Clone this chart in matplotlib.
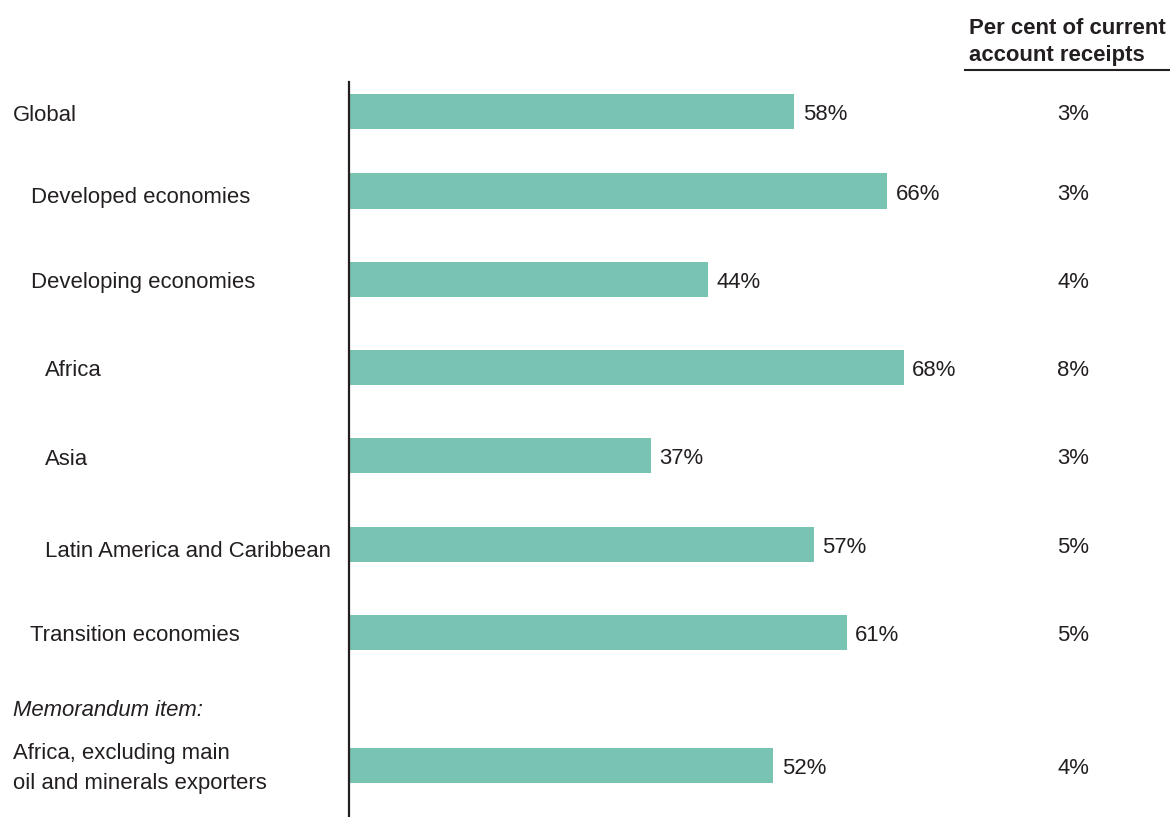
import matplotlib
matplotlib.use('Agg')
import matplotlib.pyplot as plt
from matplotlib.lines import Line2D

# ---------------- data ----------------
categories = ["Global", "Developed economies", "Developing economies", "Africa", "Asia",
              "Latin America and Caribbean", "Transition economies",
              "Africa, excluding main\noil and minerals exporters"]
bar_values = [54.6, 66, 44, 68, 37, 57, 61, 52]          # bar lengths as drawn (%)
share_labels = ["58%", "66%", "44%", "68%", "37%", "57%", "61%", "52%"]
receipts_labels = ["3%", "3%", "4%", "8%", "3%", "5%", "5%", "4%"]
header_lines = ["Per cent of current", "account receipts"]
memo_label = "Memorandum item:"

# ---------------- layout (pixels) ----------------
W, H = 1170, 817
x0 = 348.5            # pixel x of value 0
scale = 8.165         # pixels per percentage point
axis_top = 82
bar_centers = [111.5, 191, 279.5, 367.5, 455.5, 544.5, 632.5, 765.5]
label_baselines = [120.7, 203.3, 288.3, 375.7, 465.3, 556.7, 641, 759.3]
label_indents = [13, 31, 31, 45, 45, 45, 30, 13]
line_step = 29.7

TXT = '#231f20'
BAR = '#79c3b2'
FS = 15.9
plt.rcParams['font.family'] = ['Liberation Sans', 'DejaVu Sans']

fig = plt.figure(figsize=(W / 100, H / 100), dpi=100)
fig.patch.set_facecolor('white')

def fpos(x, y):
    return x / W, 1 - y / H

ax = fig.add_axes([x0 / W, 0, 1 - x0 / W, (H - axis_top) / H])
ax.set_xlim(0, (W - x0) / scale)
ax.set_ylim(H, axis_top)
ax.barh(bar_centers, bar_values, height=35.5, color=BAR, left=0, zorder=2)

for s in ['top', 'right', 'bottom']:
    ax.spines[s].set_visible(False)
ax.spines['left'].set_color(TXT)
ax.spines['left'].set_linewidth(1.6)
ax.spines['left'].set_zorder(3)
ax.set_xticks([])
ax.set_yticks([])
ax.patch.set_alpha(0)

# value labels next to bars
for c, v, lab in zip(bar_centers, bar_values, share_labels):
    ax.text(v + 8.5 / scale, c + 8.8, lab, ha='left', va='baseline',
            fontsize=FS, color=TXT)

# right column
col_x = (1073.5 - x0) / scale
for c, lab in zip(bar_centers, receipts_labels):
    ax.text(col_x, c + 8.8, lab, ha='center', va='baseline',
            fontsize=FS, color=TXT)

# category labels
for cat, bl, ind in zip(categories, label_baselines, label_indents):
    for i, line in enumerate(cat.split('\n')):
        fig.text(*fpos(ind, bl + i * line_step), line, ha='left', va='baseline',
                 fontsize=FS, color=TXT)

fig.text(*fpos(13, 715.7), memo_label, ha='left', va='baseline',
         fontsize=FS, color=TXT, style='italic')

# header
for i, line in enumerate(header_lines):
    fig.text(*fpos(969, 34.3 + i * 26.2), line, ha='left', va='baseline',
             fontsize=FS, color=TXT, fontweight='bold')
fig.add_artist(Line2D([965 / W, 1.0], [1 - 70 / H, 1 - 70 / H],
                      transform=fig.transFigure, color=TXT, linewidth=1.5))

fig.savefig('out.png', dpi=100, facecolor='white')
